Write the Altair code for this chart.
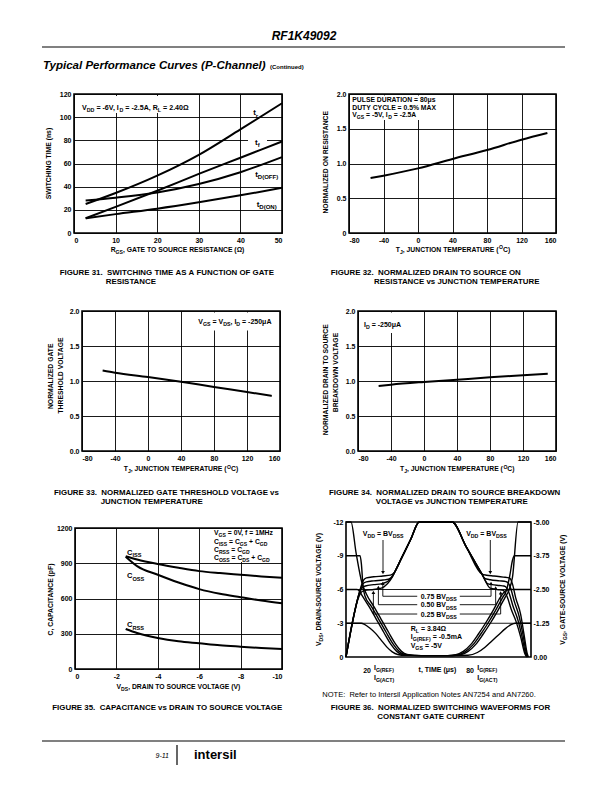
import altair as alt
import pandas as pd

FONT = "Liberation Sans"
ONE = pd.DataFrame({"k": [0]})

# ================= chart values =================
# Figure 31: switching time (ns) vs gate resistance (ohm)
rgs = [2.8, 10, 20, 30, 40, 50]
sw_tr = [25.0, 34.5, 49.5, 67.5, 89.5, 112.0]
sw_tf = [12.7, 22.5, 36.5, 51.0, 65.0, 79.0]
sw_tdoff = [28.0, 30.5, 35.0, 42.3, 52.5, 65.5]
sw_tdon = [12.7, 16.3, 21.0, 26.5, 32.5, 39.0]
x31_ticks = [0, 10, 20, 30, 40, 50]
y31_ticks = [0, 20, 40, 60, 80, 100, 120]

# Figures 32-34: normalized quantities vs junction temperature
tj = [-55, -40, 0, 40, 80, 120, 150]
rds_on_norm = [0.79, 0.825, 0.93, 1.065, 1.194, 1.343, 1.44]
vth_norm = [1.15, 1.119, 1.057, 0.99, 0.914, 0.843, 0.787]
bvdss_norm = [0.93, 0.948, 0.986, 1.019, 1.052, 1.081, 1.103]
tj_ticks = [-80, -40, 0, 40, 80, 120, 160]
norm_ticks = [0, 0.5, 1.0, 1.5, 2.0]

# Figure 35: capacitance (pF) vs drain-source voltage (V)
vds_c = [-2.45, -3, -4, -5, -6, -7, -8, -9, -10]
c_iss = [960, 932, 893, 861, 833, 816, 802, 788, 776]
c_oss = [955, 875, 802, 736, 680, 640, 611, 583, 560]
c_rss = [341, 307, 264, 236, 219, 202, 190, 179, 171]
vds_ticks = [0, -2, -4, -6, -8, -10]
cap_ticks = [0, 300, 600, 900, 1200]

# Figure 36: normalized switching waveforms (t in % of the period)
vds100_t = [0, 2.7, 5.5, 8.6, 11, 15, 19, 23, 27, 30, 33, 37, 45, 55, 62, 66, 70, 74, 78, 82, 86, 88, 90, 93, 100]
vds100_v = [-12, -12, -9.2, -6.6, -5.6, -4.5, -3.35, -2.2, -1.1, -0.5, -0.22, -0.14, -0.12, -0.12, -0.2, -0.5, -1.1, -2.0, -3.0, -4.1, -5.3, -5.9, -7.1, -12, -12]
vds75_t = [0, 7.6, 8.3, 9.2, 10.2, 13.7, 17.7, 21.7, 25.7, 28.7, 31.7, 35.7, 45, 55, 60.7, 64.7, 68.7, 72.7, 76.7, 80.7, 84.7, 86.7, 88.5, 90, 91, 100]
vds75_v = [-9, -9, -8.3, -6.3, -5.45, -4.5, -3.35, -2.2, -1.1, -0.5, -0.22, -0.14, -0.12, -0.12, -0.2, -0.5, -1.1, -2.0, -3.0, -4.1, -5.3, -5.9, -7.2, -8.6, -9, -9]
vds50_t = [0, 6.0, 7.3, 8.4, 12.4, 16.4, 20.4, 24.4, 27.4, 30.4, 34.4, 45, 55, 59.4, 63.4, 67.4, 71.4, 75.4, 79.4, 83.4, 85.4, 87.5, 100]
vds50_v = [-6, -6, -5.85, -5.55, -4.5, -3.35, -2.2, -1.1, -0.5, -0.22, -0.14, -0.12, -0.12, -0.2, -0.5, -1.1, -2.0, -3.0, -4.1, -5.3, -5.75, -6, -6]
vds25_t = [0, 8.3, 10, 13, 16, 19, 22, 25, 28, 32, 45, 55, 66, 71, 75, 79, 83, 86, 89, 91.5, 100]
vds25_v = [-3, -3, -2.9, -2.55, -2.1, -1.5, -0.9, -0.45, -0.22, -0.14, -0.12, -0.12, -0.15, -0.4, -0.85, -1.45, -2.05, -2.5, -2.85, -3.0, -3.0]

vgs100_t = [0, 8.2, 9.5, 11, 15, 20, 24, 26, 30, 35, 39.6, 57.3, 65, 73.5, 76, 80, 85, 88.5, 90, 91.7, 94.4, 96.2, 98, 98.6]
vgs100_v = [0, -2.62, -2.85, -2.93, -2.97, -3.0, -3.03, -3.12, -3.66, -4.36, -5.0, -5.0, -4.08, -3.07, -3.03, -3.0, -2.96, -2.92, -2.7, -2.2, -1.58, -0.85, -0.11, 0]
vgs75_t = [0, 7.8, 9.0, 11, 15, 20, 23, 25, 27, 30, 35, 39.6, 57.3, 65, 73.5, 75, 78, 83, 86.5, 87.5, 89, 91, 93.6, 95.6, 97.6, 98.2]
vgs75_v = [0, -2.5, -2.7, -2.78, -2.82, -2.85, -2.88, -2.98, -3.24, -3.66, -4.36, -5.0, -5.0, -4.08, -3.07, -2.91, -2.86, -2.82, -2.79, -2.76, -2.55, -2.05, -1.5, -0.85, -0.11, 0]
vgs50_t = [0, 7.4, 8.6, 10.5, 15, 19, 21.5, 23.5, 25.5, 27, 30, 35, 39.6, 57.3, 65, 73.5, 76.5, 79, 83, 85.3, 86.3, 88, 90.2, 92.8, 95, 97.2, 97.9]
vgs50_v = [0, -2.38, -2.55, -2.63, -2.68, -2.71, -2.76, -2.85, -3.03, -3.24, -3.66, -4.36, -5.0, -5.0, -4.08, -3.07, -2.72, -2.68, -2.65, -2.63, -2.6, -2.4, -1.9, -1.4, -0.8, -0.1, 0]
vgs25_t = [0, 7.0, 8.2, 10, 15, 18, 20.5, 22.5, 24.5, 26, 27, 30, 35, 39.6, 57.3, 65, 73.5, 77.9, 80, 82.5, 84, 85, 87, 89.4, 92, 94.4, 96.8, 97.6]
vgs25_v = [0, -2.24, -2.4, -2.46, -2.5, -2.53, -2.6, -2.72, -2.9, -3.1, -3.24, -3.66, -4.36, -5.0, -5.0, -4.08, -3.07, -2.55, -2.52, -2.49, -2.48, -2.47, -2.25, -1.75, -1.3, -0.75, -0.1, 0]

vds_axis_ticks = [0, -3, -6, -9, -12]
vgs_axis_ticks = [0, -1.25, -2.5, -3.75, -5]
vds_grid = [-3, -6]

# annotation leaders of figure 36 (t1, v1, t2, v2) on the VDS scale
lead_t1 = [20, 78, 38.5, 19.9, 38.5, 17.5, 38.5, 14.8, 61.5, 78.4, 61.5, 80.9, 61.5, 83.6]
lead_v1 = [-10.4, -10.4, -5.4, -5.4, -4.65, -4.65, -3.82, -3.82, -5.4, -5.4, -4.65, -4.65, -3.82, -3.82]
lead_t2 = [20, 78, 19.9, 19.9, 17.5, 17.5, 14.8, 14.8, 78.4, 78.4, 80.9, 80.9, 83.6, 83.6]
lead_v2 = [-7.6, -7.6, -5.4, -6.45, -4.65, -6.1, -3.82, -5.65, -5.4, -6.45, -4.65, -6.05, -3.82, -5.6]
head_dn_t = [20, 78]
head_dn_v = [-7.5, -7.5]
head_up_t = [19.9, 17.5, 14.8, 78.4, 80.9, 83.6]
head_up_v = [-6.55, -6.2, -5.75, -6.55, -6.15, -5.7]

# ================= text helpers =================
AW = dict(zip("ABCDEFGHIJKLMNOPQRSTUVWXYZ",
              [722, 722, 722, 722, 667, 611, 778, 722, 278, 556, 722, 611, 833, 722, 778, 667, 778, 722, 667, 611, 722, 667, 944, 667, 667, 611]))
AW.update(zip("abcdefghijklmnopqrstuvwxyz",
              [556, 611, 556, 611, 556, 333, 611, 611, 278, 278, 556, 278, 889, 611, 611, 611, 611, 389, 556, 333, 611, 556, 778, 556, 556, 500]))
AW.update({c: 556 for c in "0123456789"})
AW.update({" ": 278, "=": 584, "-": 333, ",": 278, ".": 278, "(": 333, ")": 333, "%": 889,
           "μ": 576, "Ω": 768, "+": 584, "/": 278, "°": 400, ":": 333})
NBSP = "\u00a0"


def tw(s, size):
    return sum(AW.get(c, 600) for c in s) * size / 1000.0


def parse(markup):
    segs, buf, i = [], "", 0
    while i < len(markup):
        if markup[i] in "_^" and i + 1 < len(markup) and markup[i + 1] == "{":
            if buf:
                segs.append((buf, "n"))
                buf = ""
            j = markup.index("}", i)
            segs.append((markup[i + 2:j], "s" if markup[i] == "_" else "p"))
            i = j + 1
        else:
            buf += markup[i]
            i += 1
    if buf:
        segs.append((buf, "n"))
    return segs


def txt(s, x, y, size=7.0, align="left", angle=0, weight="bold", style="normal"):
    return alt.Chart(ONE).mark_text(
        text=s.replace(" ", NBSP), font=FONT, fontSize=size, fontWeight=weight, fontStyle=style,
        align=align, baseline="alphabetic", angle=angle, color="black"
    ).encode(x=alt.value(x), y=alt.value(y))


def rich(markup, x, y, size=7.0, align="left", angle=0, weight="bold"):
    """horizontal: x anchor, y vertical centre; rotated 270: x horizontal centre, y anchor.
    Each run is placed at its own offset; edge spaces are turned into offsets."""
    segs = parse(markup)
    sizes = [size if k == "n" else size * 0.75 for _, k in segs]
    widths = [tw(t, s) for (t, _), s in zip(segs, sizes)]
    total = sum(widths)
    off = {"left": 0.0, "center": -total / 2.0, "right": -total}[align]
    out = []
    for (t, k), s, w in zip(segs, sizes, widths):
        lead = tw(" " * (len(t) - len(t.lstrip(" "))), s)
        core = t.strip(" ")
        shift = 0.0 if k == "n" else (0.3 * size if k == "s" else -0.42 * size)
        if core:
            if angle == 0:
                px, py = x + off + lead, y + 0.36 * size + shift
            else:
                px, py = x + 0.36 * size + shift, y - off - lead
            out.append(txt(core, px, py, s, "left", angle, weight))
        off += w
    return out


def box(x1, y1, x2, y2):
    return alt.Chart(ONE).mark_rect(color="white").encode(
        x=alt.value(x1), x2=alt.value(x2), y=alt.value(y1), y2=alt.value(y2))


FRAME = alt.ViewBackground(stroke="black", strokeWidth=1.6)
NOFRAME = alt.ViewBackground(stroke="transparent")
NEG_D = "datum.value < 0 ? '-' + format(-datum.value, 'd') : format(datum.value, 'd')"
NEG_2F = "datum.value < 0 ? '-' + format(-datum.value, '.2f') : format(datum.value, '.2f')"
ONE_F = "format(datum.value, '.1f')"
ONE_F_Z = "datum.value == 0 ? '0' : format(datum.value, '.1f')"
CAP = 7.9


def ghost(x1, x2, y1, y2):
    return alt.Chart(ONE).mark_rect(opacity=0, color="white").encode(
        x=alt.value(x1), x2=alt.value(x2), y=alt.value(y1), y2=alt.value(y2))


def sp(w):
    return ghost(0, w, 0, 1).properties(width=w, height=1, view=NOFRAME)


def anchor(w, top, bottom, extra=()):
    return alt.layer(ghost(0, w, -top, bottom), *extra).properties(width=w, height=1, view=NOFRAME)


# ================= Figure 31 =================
d31 = pd.DataFrame({
    "rgs": rgs * 4,
    "ns": sw_tr + sw_tf + sw_tdoff + sw_tdon,
    "curve": ["tr"] * len(rgs) + ["tf"] * len(rgs) + ["tdoff"] * len(rgs) + ["tdon"] * len(rgs),
})
l31 = alt.Chart(d31).mark_line(color="black", strokeWidth=2, interpolate="monotone").encode(
    x=alt.X("rgs:Q", scale=alt.Scale(domain=[0, 50], nice=False),
            axis=alt.Axis(values=x31_ticks, title=None, grid=True)),
    y=alt.Y("ns:Q", scale=alt.Scale(domain=[0, 120], nice=False),
            axis=alt.Axis(values=y31_ticks, title=None, grid=True)),
    detail="curve:N")
t31 = (rich("V_{DD} = -6V, I_{D} = -2.5A, R_{L} = 2.40Ω", 8, 13, 7.1)
       + rich("t_{r}", 181.7, 18.3, 8, "center")
       + rich("t_{f}", 183.3, 47.7, 8, "center")
       + rich("t_{D(OFF)}", 192.7, 80, 8, "center")
       + rich("t_{D(ON)}", 192.7, 110, 8, "center")
       + rich("R_{GS}, GATE TO SOURCE RESISTANCE (Ω)", 104, 155.7, 6.8, "center")
       + rich("SWITCHING TIME (ns)", -25, 69.5, 6.8, "center", 270)
       + [txt("FIGURE 31.  SWITCHING TIME AS A FUNCTION OF GATE", -14.3, 180.5, CAP),
          txt("RESISTANCE", 31.7, 189.5, CAP)])
p31 = alt.layer(box(2, 2, 121, 19), box(174, 41, 193, 53), l31, *t31).properties(
    width=208, height=139, view=FRAME)


# ================= Figures 32-34 =================
def temp_panel(vals, w, h, boxes, texts, ylabels=ONE_F):
    d = pd.DataFrame({"tj": tj, "v": vals})
    line = alt.Chart(d).mark_line(color="black", strokeWidth=2, interpolate="monotone").encode(
        x=alt.X("tj:Q", scale=alt.Scale(domain=[-80, 160], nice=False),
                axis=alt.Axis(values=tj_ticks, labelExpr=NEG_D, title=None, grid=True)),
        y=alt.Y("v:Q", scale=alt.Scale(domain=[0, 2], nice=False),
                axis=alt.Axis(values=norm_ticks, labelExpr=ylabels, title=None, grid=True)))
    return alt.layer(*boxes, line, *texts).properties(width=w, height=h, view=FRAME)


TJ_TITLE = "T_{J}, JUNCTION TEMPERATURE (^{O}C)"
p32 = temp_panel(
    rds_on_norm, 207, 139, [box(1.5, 1.5, 92, 26)],
    rich("PULSE DURATION = 80μs", 3.3, 5.7, 6.8)
    + rich("DUTY CYCLE = 0.5% MAX", 3.3, 13.3, 6.8)
    + rich("V_{GS} = -5V, I_{D} = -2.5A", 3.3, 21, 6.8)
    + rich(TJ_TITLE, 104, 155.7, 6.8, "center")
    + rich("NORMALIZED ON RESISTANCE", -23.3, 68, 6.8, "center", 270)
    + [txt("FIGURE 32.  NORMALIZED DRAIN TO SOURCE ON", -18.3, 180.5, CAP),
       txt("RESISTANCE vs JUNCTION TEMPERATURE", 25, 189.5, CAP)],
    ylabels=ONE_F_Z)

p33 = temp_panel(
    vth_norm, 198, 140, [box(112, 1.5, 196, 19.5)],
    rich("V_{GS} = V_{DS}, I_{D} = -250μA", 116.3, 10.7, 7)
    + rich(TJ_TITLE, 99, 158, 6.8, "center")
    + rich("NORMALIZED GATE", -31.3, 65, 6.8, "center", 270)
    + rich("THRESHOLD VOLTAGE", -21.3, 64, 6.8, "center", 270)
    + [txt("FIGURE 33.  NORMALIZED GATE THRESHOLD VOLTAGE vs", -28, 184.1, CAP),
       txt("JUNCTION TEMPERATURE", 18.7, 192.5, CAP)])

p34 = temp_panel(
    bvdss_norm, 198, 140, [box(1.5, 1.5, 50, 22)],
    rich("I_{D} = -250μA", 6, 13, 7)
    + rich(TJ_TITLE, 99.3, 158, 6.8, "center")
    + rich("NORMALIZED DRAIN TO SOURCE", -32.3, 68.7, 6.8, "center", 270)
    + rich("BREAKDOWN VOLTAGE", -22.3, 61, 6.8, "center", 270)
    + [txt("FIGURE 34.  NORMALIZED DRAIN TO SOURCE BREAKDOWN", -29, 184.1, CAP),
       txt("VOLTAGE vs JUNCTION TEMPERATURE", 17.7, 192.5, CAP)])

# ================= Figure 35 =================
d35 = pd.DataFrame({
    "vds": vds_c * 3,
    "pf": c_iss + c_oss + c_rss,
    "curve": ["ciss"] * len(vds_c) + ["coss"] * len(vds_c) + ["crss"] * len(vds_c),
})
l35 = alt.Chart(d35).mark_line(color="black", strokeWidth=2, interpolate="monotone").encode(
    x=alt.X("vds:Q", scale=alt.Scale(domain=[0, -10], nice=False),
            axis=alt.Axis(values=vds_ticks, labelExpr=NEG_D, title=None, grid=True)),
    y=alt.Y("pf:Q", scale=alt.Scale(domain=[0, 1200], nice=False),
            axis=alt.Axis(values=cap_ticks, format="d", title=None, grid=True)),
    detail="curve:N")
t35 = (rich("V_{GS} = 0V, f = 1MHz", 139, 4.6, 6.8)
       + rich("C_{ISS} = C_{GS} + C_{GD}", 139, 13.6, 6.8)
       + rich("C_{RSS} = C_{GD}", 139, 21.8, 6.8)
       + rich("C_{OSS} = C_{DS} + C_{GD}", 139, 29.8, 6.8)
       + rich("C_{ISS}", 52, 24, 7.5)
       + rich("C_{OSS}", 52, 47.7, 7.5)
       + rich("C_{RSS}", 52, 96.7, 7.5)
       + rich("V_{DS}, DRAIN TO SOURCE VOLTAGE (V)", 104, 158.5, 6.8, "center")
       + rich("C, CAPACITANCE (pF)", -24.3, 71, 6.8, "center", 270)
       + [txt("FIGURE 35.  CAPACITANCE vs DRAIN TO SOURCE VOLTAGE", -22.7, 181.5, CAP)])
p35 = alt.layer(box(136, 1.5, 205.5, 34), l35, *t35).properties(width=207, height=141, view=FRAME)

# ================= Figure 36 =================
# the plot area sits 6 px higher than the neighbouring panel: scale range [129, -6]
UP = 6
XS6 = alt.Scale(domain=[0, 100], nice=False)
YL6 = alt.Scale(domain=[0, -12], nice=False, range=[135 - UP, -UP])
YR6 = alt.Scale(domain=[0, -5], nice=False, range=[135 - UP, -UP])
AXL6 = alt.Axis(values=vds_axis_ticks, labelExpr=NEG_D, grid=False, title=None, labelColor="black")
AXR6 = alt.Axis(values=vgs_axis_ticks, labelExpr=NEG_2F, grid=False, title=None,
                orient="right", labelPadding=2, labelColor="black")


def curves(pairs):
    t, v, c = [], [], []
    for name, ts, vs in pairs:
        t += ts
        v += vs
        c += [name] * len(ts)
    return pd.DataFrame({"t": t, "v": v, "curve": c})


d_vds = curves([("vds100", vds100_t, vds100_v), ("vds75", vds75_t, vds75_v),
                ("vds50", vds50_t, vds50_v), ("vds25", vds25_t, vds25_v)])
d_vgs = curves([("vgs100", vgs100_t, vgs100_v), ("vgs75", vgs75_t, vgs75_v),
                ("vgs50", vgs50_t, vgs50_v), ("vgs25", vgs25_t, vgs25_v)])

grid6 = alt.Chart(pd.DataFrame({"g": vds_grid})).mark_rule(color="black", strokeWidth=0.9).encode(
    y=alt.Y("g:Q", scale=YL6, axis=AXL6))
vds6 = alt.Chart(d_vds).mark_line(color="black", strokeWidth=1.4, interpolate="monotone").encode(
    x=alt.X("t:Q", scale=XS6, axis=None), y=alt.Y("v:Q", scale=YL6, axis=AXL6), detail="curve:N")
lead6 = alt.Chart(pd.DataFrame({"t1": lead_t1, "v1": lead_v1, "t2": lead_t2, "v2": lead_v2})).mark_rule(
    color="black", strokeWidth=0.9).encode(
    x=alt.X("t1:Q", scale=XS6, axis=None), x2="t2:Q",
    y=alt.Y("v1:Q", scale=YL6, axis=AXL6), y2="v2:Q")
hd6 = alt.Chart(pd.DataFrame({"t": head_dn_t, "v": head_dn_v})).mark_point(
    shape="triangle-down", filled=True, color="black", opacity=1, size=14).encode(
    x=alt.X("t:Q", scale=XS6, axis=None), y=alt.Y("v:Q", scale=YL6, axis=AXL6))
hu6 = alt.Chart(pd.DataFrame({"t": head_up_t, "v": head_up_v})).mark_point(
    shape="triangle-up", filled=True, color="black", opacity=1, size=14).encode(
    x=alt.X("t:Q", scale=XS6, axis=None), y=alt.Y("v:Q", scale=YL6, axis=AXL6))
frame6 = alt.Chart(ONE).mark_rect(fill="white", fillOpacity=0, stroke="black", strokeWidth=1.6).encode(
    x=alt.value(0), x2=alt.value(185), y=alt.value(-UP), y2=alt.value(135 - UP))
t36 = (rich("V_{DD} = BV_{DSS}", 37.2, 11 - UP, 7, "center")
       + rich("V_{DD} = BV_{DSS}", 140.5, 11 - UP, 7, "center")
       + rich("0.75 BV_{DSS}", 92.7, 74.3 - UP, 7, "center")
       + rich("0.50 BV_{DSS}", 92.7, 82.9 - UP, 7, "center")
       + rich("0.25 BV_{DSS}", 92.7, 92 - UP, 7, "center")
       + rich("R_{L} = 3.84Ω", 64.7, 106 - UP, 7)
       + rich("I_{G(REF)} = -0.5mA", 64.7, 114.5 - UP, 7)
       + rich("V_{GS} = -5V", 64.7, 123 - UP, 7)
       + [txt("20", 25, 151.2 - UP, 7, "right")]
       + rich("I_{G(REF)}", 28, 145.3 - UP, 7)
       + rich("I_{G(ACT)}", 28, 155.3 - UP, 7)
       + rich("t, TIME (μs)", 91.3, 147.7 - UP, 7, "center")
       + [txt("80", 128, 151.2 - UP, 7, "right")]
       + rich("I_{G(REF)}", 131.3, 145.3 - UP, 7)
       + rich("I_{G(ACT)}", 131.3, 155.3 - UP, 7)
       + rich("V_{DS}, DRAIN-SOURCE VOLTAGE (V)", -27.7, 67 - UP, 6.8, "center", 270)
       + rich("V_{GS}, GATE-SOURCE VOLTAGE (V)", 216.3, 67 - UP, 6.8, "center", 270)
       + [txt("NOTE:  Refer to Intersil Application Notes AN7254 and AN7260.", -23.7, 174.7 - UP, 7.5,
              weight="normal"),
          txt("FIGURE 36.  NORMALIZED SWITCHING WAVEFORMS FOR", -15.3, 187.5 - UP, CAP),
          txt("CONSTANT GATE CURRENT", 31.3, 196.5 - UP, CAP)])
left6 = alt.layer(grid6, vds6, lead6, hd6, hu6, frame6, *t36)
right6 = alt.Chart(d_vgs).mark_line(color="black", strokeWidth=1.4, interpolate="monotone").encode(
    x=alt.X("t:Q", scale=XS6, axis=None), y=alt.Y("v:Q", scale=YR6, axis=AXR6), detail="curve:N")
p36 = alt.layer(left6, right6).resolve_scale(y="independent").properties(
    width=185, height=135 - UP, view=NOFRAME)

# ================= page header (placed relative to the first plot row) =================
TYP = "Typical Performance Curves (P-Channel)"
HDR = [
    alt.Chart(ONE).mark_rule(color="#808080", strokeWidth=2).encode(
        x=alt.value(-31), x2=alt.value(492), y=alt.value(-47)),
    txt("RF1K49092", 231, -54, 12, "center", style="italic"),
    txt(TYP, -30, -25.5, 11.5, style="italic"),
    txt("(Continued)", -30 + tw(TYP, 11.5) + 4, -25.5, 6),
]

footer = alt.layer(
    alt.Chart(ONE).mark_rule(color="#808080", strokeWidth=2).encode(
        x=alt.value(-31), x2=alt.value(492), y=alt.value(10)),
    alt.Chart(ONE).mark_rule(color="black", strokeWidth=1.2).encode(
        x=alt.value(104), y=alt.value(14), y2=alt.value(34)),
    txt("9-11", 96, 27, 7, "right", weight="normal", style="italic"),
    txt("intersil", 121, 28, 13),
).properties(width=1, height=40, view=NOFRAME)

# ================= page layout =================
T = 12
row1 = alt.hconcat(anchor(1, 70, 203, HDR), p31, sp(67), p32, spacing=0, bounds="flush")
row2 = alt.hconcat(anchor(9, T, 203), p33, sp(78), p34, spacing=0, bounds="flush")
row3 = alt.hconcat(anchor(2, T, 201), p35, sp(64), p36, spacing=0, bounds="flush")

chart = alt.vconcat(row1, row2, row3, footer, spacing=0).properties(
    padding={"left": 32, "top": 15, "right": 6, "bottom": 6}
).configure_axis(
    labelFont=FONT, labelFontSize=7, labelFontWeight="bold", labelColor="black",
    ticks=False, domain=False, gridColor="black", gridWidth=0.9, gridOpacity=1,
    labelPadding=3,
).configure_view(stroke="transparent")

chart.save("out.html", embed_options={"renderer": "svg", "actions": False})
